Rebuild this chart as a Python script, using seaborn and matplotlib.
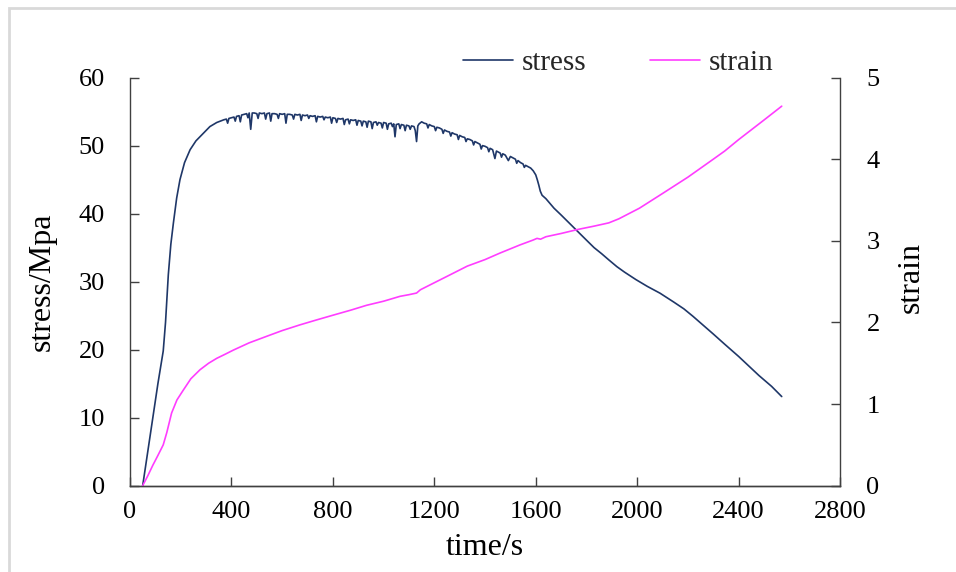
import numpy as np
import pandas as pd
import seaborn as sns
import matplotlib.pyplot as plt
from matplotlib.patches import Rectangle

# stress curve (time in s, stress in MPa)
stress_time = [50, 70, 90, 110, 131, 140, 151, 161, 171, 184, 197, 215, 237, 260, 289, 315, 342, 370,
               380, 385, 390, 400, 410, 415, 420, 430, 435, 440, 450, 460, 465, 470, 476, 482, 490, 500,
               505, 510, 520, 530, 535, 540, 550, 555, 560, 570, 580, 585, 590, 600, 610, 615, 620, 630,
               640, 645, 650, 660, 670, 675, 680, 690, 700, 705, 710, 720, 730, 735, 740, 750, 760, 765,
               770, 780, 790, 795, 800, 810, 815, 820, 830, 840, 845, 850, 860, 865, 870, 880, 890, 895,
               900, 910, 915, 920, 930, 935, 940, 950, 955, 960, 970, 975, 980, 990, 995, 1000, 1010, 1015,
               1020, 1030, 1035, 1040, 1045, 1050, 1060, 1065, 1070, 1080, 1085, 1090, 1100, 1105, 1110,
               1120, 1125, 1130, 1135, 1140, 1150, 1160, 1170, 1175, 1180, 1190, 1200, 1205, 1210, 1220,
               1230, 1235, 1240, 1250, 1260, 1265, 1270, 1280, 1290, 1295, 1300, 1310, 1320, 1325, 1330,
               1340, 1350, 1355, 1360, 1370, 1380, 1385, 1390, 1400, 1410, 1415, 1420, 1430, 1439, 1445,
               1450, 1460, 1465, 1470, 1480, 1492, 1500, 1510, 1520, 1525, 1530, 1540, 1550, 1555, 1560,
               1570, 1580, 1590, 1600, 1606, 1612, 1618, 1625, 1640, 1672, 1700, 1735, 1767, 1800, 1830,
               1860, 1888, 1920, 1950, 1995, 2040, 2090, 2144, 2184, 2220, 2260, 2300, 2345, 2400, 2440,
               2480, 2530, 2570]
stress_mpa = [0.0, 5.0, 10.0, 15.0, 19.8, 24.0, 31.0, 35.5, 38.6, 42.3, 45.0, 47.5, 49.4, 50.7, 51.8, 52.8, 53.4, 53.8,
              53.9, 53.3, 54.0, 54.1, 54.2, 53.6, 54.3, 54.4, 53.5, 54.5, 54.6, 54.7, 54.1, 54.8, 52.4, 54.8, 54.8, 54.7,
              54.0, 54.8, 54.7, 54.8, 53.9, 54.7, 54.8, 53.6, 54.7, 54.7, 54.6, 54.0, 54.7, 54.6, 54.7, 53.3, 54.6, 54.6,
              54.5, 53.9, 54.6, 54.5, 54.6, 53.7, 54.5, 54.4, 54.5, 54.0, 54.4, 54.3, 54.4, 53.5, 54.3, 54.2, 54.3, 53.8,
              54.2, 54.1, 54.2, 53.3, 54.1, 54.0, 53.4, 54.0, 53.9, 54.0, 53.1, 53.8, 53.9, 53.2, 53.8, 53.7, 53.8, 53.0,
              53.7, 53.6, 52.9, 53.6, 53.5, 52.7, 53.6, 53.5, 52.5, 53.4, 53.5, 53.0, 53.4, 53.3, 52.6, 53.4, 53.3, 52.4,
              53.2, 53.3, 52.8, 53.2, 51.3, 53.1, 53.2, 52.5, 53.1, 53.0, 52.2, 53.0, 52.9, 52.4, 52.9,
              52.8, 52.2, 50.6, 52.9, 53.2, 53.5, 53.3, 53.2, 52.6, 53.1, 52.9, 52.8, 52.2, 52.7, 52.6,
              52.4, 51.8, 52.3, 52.1, 52.0, 51.4, 51.9, 51.7, 51.6, 50.9, 51.5, 51.3, 51.2, 50.6, 51.0,
              50.9, 50.7, 50.1, 50.6, 50.4, 50.2, 49.5, 50.0, 49.9, 49.7, 49.1, 49.6, 49.4, 48.1, 49.2,
              49.1, 48.9, 48.3, 48.8, 48.6, 47.8, 48.4, 48.2, 48.0, 47.4, 47.8, 47.5, 47.3, 46.8, 47.1,
              46.9, 46.7, 46.3, 45.7, 45.0, 44.2, 43.3, 42.7, 42.2, 40.8, 39.8, 38.5, 37.3, 36.1, 35.0,
              34.1, 33.2, 32.2, 31.4, 30.3, 29.3, 28.3, 27.0, 26.0, 24.9, 23.6, 22.3, 20.8, 19.0, 17.6,
              16.2, 14.6, 13.1]

# strain curve (right axis)
strain_time = [50, 70, 90, 110, 131, 145, 164, 185, 210, 240, 276, 310, 342, 375, 407, 470, 539, 600,
               670, 735, 802, 870, 933, 1000, 1065, 1100, 1130, 1145, 1196, 1260, 1330, 1400, 1459, 1538,
               1590, 1605, 1619, 1640, 1700, 1767, 1830, 1888, 1928, 2009, 2100, 2200, 2300, 2345, 2400,
               2500, 2570]
strain_val = [0.0, 0.12, 0.25, 0.37, 0.50, 0.65, 0.89, 1.05, 1.17, 1.31, 1.42, 1.50, 1.56, 1.61, 1.66, 1.75, 1.83, 1.90,
              1.97, 2.03, 2.09, 2.15, 2.21, 2.26, 2.32, 2.34, 2.36, 2.40, 2.48, 2.58, 2.69, 2.77, 2.85, 2.95,
              3.01, 3.03, 3.02, 3.05, 3.09, 3.14, 3.18, 3.22, 3.27, 3.40, 3.58, 3.78, 4.00, 4.10, 4.24,
              4.48, 4.65]

x_ticks = [0, 400, 800, 1200, 1600, 2000, 2400, 2800]
stress_ticks = [0, 10, 20, 30, 40, 50, 60]
strain_ticks = [0, 1, 2, 3, 4, 5]

stress_color = "#1F3768"
strain_color = "#FF3DFF"
axis_color = "#404040"

sns.set_theme(style="white")
plt.rcParams['font.family'] = ['Liberation Serif', 'DejaVu Serif']

fig = plt.figure(figsize=(9.56, 5.72), dpi=100)
ax = fig.add_axes([0.136, 0.151, 0.7427, 0.7133])
ax2 = ax.twinx()

sns.lineplot(x=stress_time, y=stress_mpa, ax=ax, color=stress_color, lw=1.2,
             label="stress", legend=False, estimator=None, sort=False)
sns.lineplot(x=strain_time, y=strain_val, ax=ax2, color=strain_color, lw=1.2,
             label="strain", legend=False, estimator=None, sort=False)

ax.set_xlim(0, 2800)
ax.set_ylim(0, 60)
ax2.set_ylim(0, 5)
ax.set_xticks(x_ticks)
ax.set_yticks(stress_ticks)
ax2.set_yticks(strain_ticks)

for a in [ax, ax2]:
    a.spines['top'].set_visible(False)
    for s in a.spines.values():
        s.set_color(axis_color)
        s.set_linewidth(1.0)
ax.spines['right'].set_visible(False)
ax2.spines['left'].set_visible(False)

ax.tick_params(axis='x', bottom=True, direction='in', length=6.5, width=1, color=axis_color,
               labelsize=19, pad=11, labelcolor='black')
ax.tick_params(axis='y', left=True, direction='in', length=6.5, width=1, color=axis_color,
               labelsize=19, pad=18, labelcolor='black')
ax2.tick_params(axis='y', right=True, left=False, direction='in', length=6.5, width=1, color=axis_color,
                labelsize=19, pad=19, labelcolor='black')

ax.set_xlabel("time/s", fontsize=23, color='black')
ax.xaxis.set_label_coords(0.5, -0.115)
ax.set_ylabel("stress/Mpa", fontsize=23, color='black')
ax.yaxis.set_label_coords(-0.103, 0.5)
ax2.set_ylabel("strain", fontsize=23, color='black')
ax2.yaxis.set_label_coords(1.08, 0.51)

h1, l1 = ax.get_legend_handles_labels()
h2, l2 = ax2.get_legend_handles_labels()
fig.legend(h1 + h2, l1 + l2, loc='center left', bbox_to_anchor=(463 / 956, 1 - 63 / 572),
           ncol=2, frameon=False, fontsize=21, handlelength=1.7, handletextpad=0.3,
           columnspacing=2.2, borderpad=0, borderaxespad=0)

# light grey border of the original chart area
fig.add_artist(Rectangle((8.5 / 956, -0.5), 2, 1.5 - 7.5 / 572, transform=fig.transFigure,
                         fill=False, ec="#D9D9D9", lw=2))

fig.savefig("out.png", dpi=100)
